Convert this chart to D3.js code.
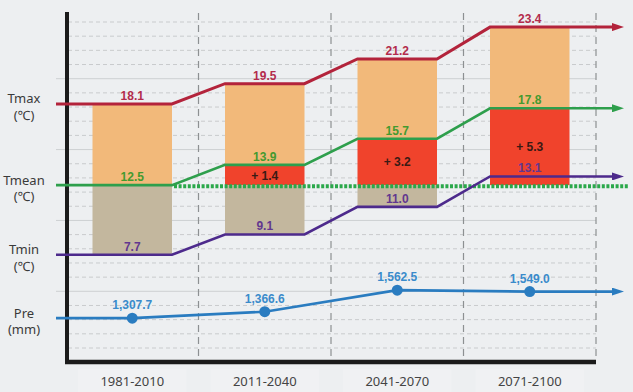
<!DOCTYPE html>
<html>
<head>
<meta charset="utf-8">
<script src="https://cdn.jsdelivr.net/npm/d3@7"></script>
<style>
  body { margin: 0; background: #edeff1; }
  svg { display: block; }
</style>
</head>
<body>
<div id="chart"></div>
<script>
// data
var periods = ["1981-2010", "2011-2040", "2041-2070", "2071-2100"];
var tmax = [18.1, 19.5, 21.2, 23.4];
var tmean = [12.5, 13.9, 15.7, 17.8];
var tmin = [7.7, 9.1, 11.0, 13.1];
var pre = [1307.7, 1366.6, 1562.5, 1549.0];
var rowNames = ["Tmax", "Tmean", "Tmin", "Pre"];
var rowUnits = ["(℃)", "(℃)", "(℃)", "(mm)"];

var svgWidth = 633, svgHeight = 392;
var svg = d3.select("#chart").append("svg")
    .attr("width", svgWidth)
    .attr("height", svgHeight);

var x = d3.scaleBand().domain(periods).range([66, 596]);
var yT = d3.scaleLinear().domain([0, 25]).range([366.4, 3.9]);
var yP = d3.scaleLinear().domain([1200, 1700]).range([330, 275]);
var gridY = d3.scaleLinear().domain([0, 23]).range([22, 348]);

var barW = x.bandwidth() * 0.6;
var cx = d => x(d) + x.bandwidth() / 2;
var base = tmean[0];
var lineStart = 56, lineEnd = 613;

var col = {
  orange: "#f2b97a", red: "#f0432c", tan: "#c3b79e",
  tmax: "#b3233b", tmean: "#2e9f4c", tmin: "#4d2a8c", pre: "#2a7cc0"
};

var defs = svg.append("defs");
function arrow(id, color) {
  defs.append("marker")
    .attr("id", id)
    .attr("markerUnits", "userSpaceOnUse")
    .attr("viewBox", "0 0 12 8")
    .attr("refX", 1).attr("refY", 4)
    .attr("markerWidth", 12).attr("markerHeight", 8)
    .attr("orient", "auto")
    .append("path").attr("d", "M0,0L12,4L0,8Z").attr("fill", color);
}
arrow("a-tmax", col.tmax);
arrow("a-tmean", col.tmean);
arrow("a-tmin", col.tmin);
arrow("a-pre", col.pre);

// horizontal grid
d3.range(0, 24).forEach(function(k) {
  var solid = k % 5 === 4;
  svg.append("line")
    .attr("x1", solid ? 56 : 68).attr("x2", 596)
    .attr("y1", gridY(k)).attr("y2", gridY(k))
    .attr("stroke", solid ? "#cdd0d2" : "#c9cbcd")
    .attr("stroke-width", 1)
    .attr("stroke-dasharray", solid ? null : "4,3");
});

// vertical dashed separators
periods.forEach(function(p) {
  var xx = x(p) + x.bandwidth();
  svg.append("line")
    .attr("x1", xx).attr("x2", xx)
    .attr("y1", 13).attr("y2", 360)
    .attr("stroke", "#8d9092")
    .attr("stroke-width", 1.2)
    .attr("stroke-dasharray", "7,5");
});

// bars
periods.forEach(function(p, i) {
  var left = cx(p) - barW / 2;
  svg.append("rect").attr("x", left).attr("width", barW)
    .attr("y", yT(tmax[i])).attr("height", yT(tmean[i]) - yT(tmax[i]))
    .attr("fill", col.orange);
  if (i > 0) {
    svg.append("rect").attr("x", left).attr("width", barW)
      .attr("y", yT(tmean[i])).attr("height", yT(base) - yT(tmean[i]))
      .attr("fill", col.red);
  }
  var top = i > 0 ? base : tmean[i];
  if (tmin[i] < top) {
    svg.append("rect").attr("x", left).attr("width", barW)
      .attr("y", yT(top)).attr("height", yT(tmin[i]) - yT(top))
      .attr("fill", col.tan);
  }
});

// axes (black frame)
svg.append("line").attr("x1", 67).attr("x2", 67).attr("y1", 12).attr("y2", 364)
  .attr("stroke", "#1b1b1b").attr("stroke-width", 4);
svg.append("line").attr("x1", 65).attr("x2", 596).attr("y1", 362).attr("y2", 362)
  .attr("stroke", "#1b1b1b").attr("stroke-width", 4.5);

// stepped temperature lines
function stepPoints(vals) {
  var pts = [[lineStart, yT(vals[0])]];
  periods.forEach(function(p, i) {
    var l = cx(p) - barW / 2, r = cx(p) + barW / 2;
    if (i > 0) pts.push([l, yT(vals[i])]);
    if (i < periods.length - 1) pts.push([r, yT(vals[i])]);
  });
  pts.push([lineEnd, yT(vals[vals.length - 1])]);
  return pts;
}
var line = d3.line();

// dotted baseline (reference-period mean)
svg.append("line")
  .attr("x1", cx(periods[0]) + barW / 2 + 2).attr("x2", 629)
  .attr("y1", yT(base) + 1).attr("y2", yT(base) + 1)
  .attr("stroke", "#2aa84a").attr("stroke-width", 4)
  .attr("stroke-dasharray", "3,1.6");

[[tmax, col.tmax, "a-tmax", 3], [tmean, col.tmean, "a-tmean", 2.6], [tmin, col.tmin, "a-tmin", 2.6]]
  .forEach(function(s) {
    svg.append("path")
      .attr("d", line(stepPoints(s[0])))
      .attr("fill", "none")
      .attr("stroke", s[1])
      .attr("stroke-width", s[3])
      .attr("marker-end", "url(#" + s[2] + ")");
  });

// precipitation line
var prePts = [[lineStart, yP(pre[0])]];
periods.forEach(function(p, i) { prePts.push([cx(p), yP(pre[i])]); });
prePts.push([lineEnd, yP(pre[pre.length - 1])]);
svg.append("path")
  .attr("d", line(prePts))
  .attr("fill", "none")
  .attr("stroke", col.pre)
  .attr("stroke-width", 2.6)
  .attr("marker-end", "url(#a-pre)");
svg.selectAll(".dot").data(pre).enter().append("circle")
  .attr("class", "dot")
  .attr("cx", (d, i) => cx(periods[i]))
  .attr("cy", d => yP(d))
  .attr("r", 5.5)
  .attr("fill", col.pre);

// value labels
var vfont = "'Liberation Sans', Arial, sans-serif";
function labels(vals, scale, dy, color, fmt) {
  svg.selectAll(null).data(vals).enter().append("text")
    .attr("x", (d, i) => cx(periods[i]))
    .attr("y", d => scale(d) + dy)
    .attr("text-anchor", "middle")
    .attr("font-family", vfont)
    .attr("font-weight", "bold")
    .attr("font-size", 12)
    .attr("fill", color)
    .text(fmt);
}
labels(tmax, yT, -4, "#b32c4c", d3.format(".1f"));
labels(tmean, yT, -4, "#449a30", d3.format(".1f"));
labels(tmin, yT, -4, "#62378f", d3.format(".1f"));
labels(pre, yP, -9, "#3a8bcb", d3.format(",.1f"));

// increase over reference mean
svg.selectAll(null).data(tmean.slice(1)).enter().append("text")
  .attr("x", (d, i) => cx(periods[i + 1]))
  .attr("y", d => (yT(d) + yT(base)) / 2 + 4.5)
  .attr("text-anchor", "middle")
  .attr("font-family", vfont)
  .attr("font-weight", "bold")
  .attr("font-size", 12)
  .attr("fill", "#3a1a14")
  .text(d => "+ " + (d - base).toFixed(1));

// row labels on the left
var rowY = [yT(tmax[0]), yT(tmean[0]), yT(tmin[0]), yP(pre[0])];
rowNames.forEach(function(n, i) {
  var t = svg.append("text")
    .attr("text-anchor", "middle")
    .attr("font-family", "'Noto Sans', sans-serif")
    .attr("font-size", 13)
    .attr("fill", "#3a3a3a");
  t.append("tspan").attr("x", 24).attr("y", rowY[i] - 0.5).text(n);
  t.append("tspan").attr("x", 24).attr("y", rowY[i] + 16).text(rowUnits[i]);
});

// category labels
periods.forEach(function(p) {
  svg.append("rect")
    .attr("x", x(p) + 12).attr("width", x.bandwidth() - 24)
    .attr("y", 369).attr("height", 23)
    .attr("fill", "#f0f1f3");
});
svg.selectAll(".cat").data(periods).enter().append("text")
  .attr("class", "cat")
  .attr("x", d => cx(d))
  .attr("y", 386)
  .attr("text-anchor", "middle")
  .attr("font-family", "'Noto Sans', sans-serif")
  .attr("font-size", 13)
  .attr("fill", "#444")
  .text(d => d);
</script>
</body>
</html>
